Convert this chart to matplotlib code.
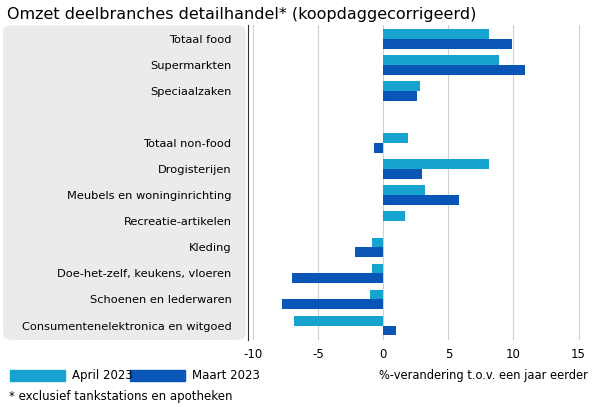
import matplotlib
matplotlib.use("Agg")
import matplotlib.pyplot as plt
from matplotlib.patches import FancyBboxPatch
import numpy as np

categories = ["Totaal food", "Supermarkten", "Speciaalzaken", "",
              "Totaal non-food", "Drogisterijen", "Meubels en woninginrichting",
              "Recreatie-artikelen", "Kleding", "Doe-het-zelf, keukens, vloeren",
              "Schoenen en lederwaren", "Consumentenelektronica en witgoed"]
april = [8.1, 8.9, 2.8, np.nan, 1.9, 8.1, 3.2, 1.7, -0.9, -0.9, -1.0, -6.9]
maart = [9.9, 10.9, 2.6, np.nan, -0.7, 3.0, 5.8, 0.0, -2.2, -7.0, -7.8, 1.0]
xticks = [-10, -5, 0, 5, 10, 15]

c_apr = "#16a3d0"
c_mrt = "#0a56b6"

fig = plt.figure(figsize=(5.92, 4.07), dpi=100)
bg = FancyBboxPatch((0.005, 0.165), 0.41, 0.773,
                    boxstyle="round,pad=0,rounding_size=0.015",
                    transform=fig.transFigure, fc="#ebebeb", ec="none", zorder=-5)
fig.patches.append(bg)
ax = fig.add_axes([0.419, 0.165, 0.578, 0.774])
ax.set_zorder(2)
ax.patch.set_alpha(0)
y = np.arange(len(categories))
h = 0.38
ax.barh(y - h/2, april, height=h, color=c_apr, zorder=3)
ax.barh(y + h/2, maart, height=h, color=c_mrt, zorder=3)
ax.set_ylim(len(categories) - 0.45, -0.55)
ax.set_xlim(-10.4, 15.9)
ax.set_yticks(y)
ax.set_yticklabels(categories, fontsize=8.2)
ax.tick_params(axis="y", length=0, pad=12)
ax.set_xticks(xticks)
ax.set_xticklabels([str(v) for v in xticks], fontsize=8.5)
ax.tick_params(axis="x", length=0, pad=6)
ax.grid(axis="x", color="#d0d0d0", lw=0.8, zorder=0)
for s in ["top", "right", "bottom"]:
    ax.spines[s].set_visible(False)
ax.spines["left"].set_color("#333333")

fig.text(0.012, 0.965, "Omzet deelbranches detailhandel* (koopdaggecorrigeerd)",
         fontsize=11.5, va="center", ha="left")
fig.patches.append(plt.Rectangle((0.017, 0.063), 0.093, 0.028, transform=fig.transFigure, color=c_apr))
fig.text(0.122, 0.077, "April 2023", fontsize=8.5, va="center")
fig.patches.append(plt.Rectangle((0.22, 0.063), 0.093, 0.028, transform=fig.transFigure, color=c_mrt))
fig.text(0.325, 0.077, "Maart 2023", fontsize=8.5, va="center")
fig.text(0.993, 0.077, "%-verandering t.o.v. een jaar eerder", fontsize=8.3, va="center", ha="right")
fig.text(0.015, 0.025, "* exclusief tankstations en apotheken", fontsize=8.5, va="center")
fig.savefig("out.png", dpi=100)
